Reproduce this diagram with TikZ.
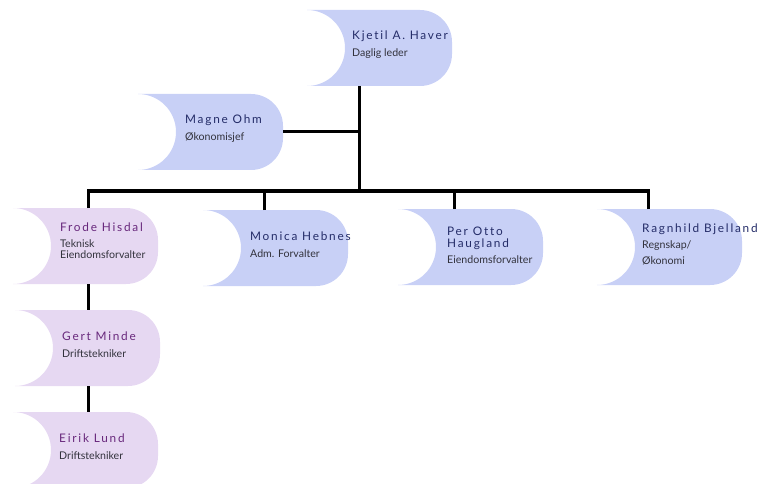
\documentclass[tikz,border=0pt]{standalone}
\usepackage{fontspec}
\setmainfont{Lato}
\newfontfamily\namefont[LetterSpace=15,Ligatures={NoCommon}]{Lato}
\usetikzlibrary{calc}

\definecolor{boxblue}{RGB}{200,208,246}
\definecolor{boxlila}{RGB}{230,216,242}
\definecolor{nameblue}{RGB}{36,44,104}
\definecolor{namelila}{RGB}{104,40,124}
\definecolor{titlegray}{RGB}{50,50,60}

\newcommand{\bnm}[1]{{\color{nameblue}\namefont\fontsize{11.8}{13}\selectfont #1}}
\newcommand{\lnm}[1]{{\color{namelila}\namefont\fontsize{11.8}{13}\selectfont #1}}

\begin{document}
\begin{tikzpicture}[x=1pt,y=1pt]

\tikzstyle{bluebox} = [
	rectangle, draw=none, inner sep=0, outer sep=0, anchor=north west,
	minimum width=145pt, minimum height=76pt,
	path picture={\fill[boxblue] (path picture bounding box.north west)
		-- ++(113pt,0) arc[start angle=90,end angle=0,radius=32pt]
		-- ++(0,-12pt) arc[start angle=0,end angle=-90,radius=32pt]
		-- ++(-113pt,0) arc[start angle=-90,end angle=90,radius=38pt] -- cycle;} ];
\tikzstyle{lilabox} = [
	rectangle, draw=none, inner sep=0, outer sep=0, anchor=north west,
	minimum width=145pt, minimum height=76pt,
	path picture={\fill[boxlila] (path picture bounding box.north west)
		-- ++(113pt,0) arc[start angle=90,end angle=0,radius=32pt]
		-- ++(0,-12pt) arc[start angle=0,end angle=-90,radius=32pt]
		-- ++(-113pt,0) arc[start angle=-90,end angle=90,radius=38pt] -- cycle;} ];
\tikzstyle{txt} = [anchor=west, align=left, inner sep=0, text=titlegray,
	font=\fontsize{10.6}{12}\selectfont];
\tikzstyle{conn} = [draw=black, line width=3pt];
\useasboundingbox (0,0) rectangle (766,-484);

% boxes
\node[bluebox] (kjetil) at (307,-10) {};
\node[bluebox] (magne) at (138,-94) {};
\node[lilabox] (frode) at (13,-208) {};
\node[bluebox] (monica) at (203,-210) {};
\node[bluebox] (per) at (398,-209) {};
\node[bluebox] (ragnhild) at (597,-209) {};
\node[lilabox] (gert) at (15,-310) {};
\node[lilabox] (eirik) at (13,-412) {};

% texts
\node[txt] (kjetil-t) at ([xshift=45pt,yshift=3pt]kjetil.west) {\bnm{Kjetil A. Haver}\\[5pt]Daglig leder};
\node[txt] (magne-t) at ([xshift=47pt,yshift=3pt]magne.west) {\bnm{Magne Ohm}\\[5pt]Økonomisjef};
\node[txt] (frode-t) at ([xshift=47pt,yshift=5pt]frode.west) {\lnm{Frode Hisdal}\\[4pt]Teknisk\\[-1pt]Eiendomsforvalter};
\node[txt] (monica-t) at ([xshift=47pt,yshift=3pt]monica.west) {\bnm{Monica Hebnes}\\[5pt]Adm. Forvalter};
\node[txt] (per-t) at ([xshift=49pt,yshift=2pt]per.west) {\bnm{Per Otto}\\[0pt]\bnm{Haugland}\\[4pt]Eiendomsforvalter};
\node[txt] (ragnhild-t) at ([xshift=45pt,yshift=3pt]ragnhild.west) {\bnm{Ragnhild Bjelland}\\[4pt]Regnskap/\\[4pt]Økonomi};
\node[txt] (gert-t) at ([xshift=47pt,yshift=3pt]gert.west) {\lnm{Gert Minde}\\[5pt]Driftstekniker};
\node[txt] (eirik-t) at ([xshift=46pt,yshift=3pt]eirik.west) {\lnm{Eirik Lund}\\[5pt]Driftstekniker};

% lines
\coordinate (hub) at (359,-191);
\draw[conn] ([xshift=52pt]kjetil.south west) -- (hub);
\draw[conn] (magne.east) -- (magne.east -| hub);
\draw[conn] ([xshift=75pt]frode.north west) |- (hub);
\draw[conn] ([xshift=61pt]monica.north west) |- (hub);
\draw[conn] ([xshift=56pt]per.north west) |- (hub);
\draw[conn] ([xshift=51pt]ragnhild.north west) |- (hub);
\draw[conn] ([xshift=75pt]frode.south west) -- ([xshift=73pt]gert.north west);
\draw[conn] ([xshift=73pt]gert.south west) -- ([xshift=75pt]eirik.north west);

\end{tikzpicture}
\end{document}
